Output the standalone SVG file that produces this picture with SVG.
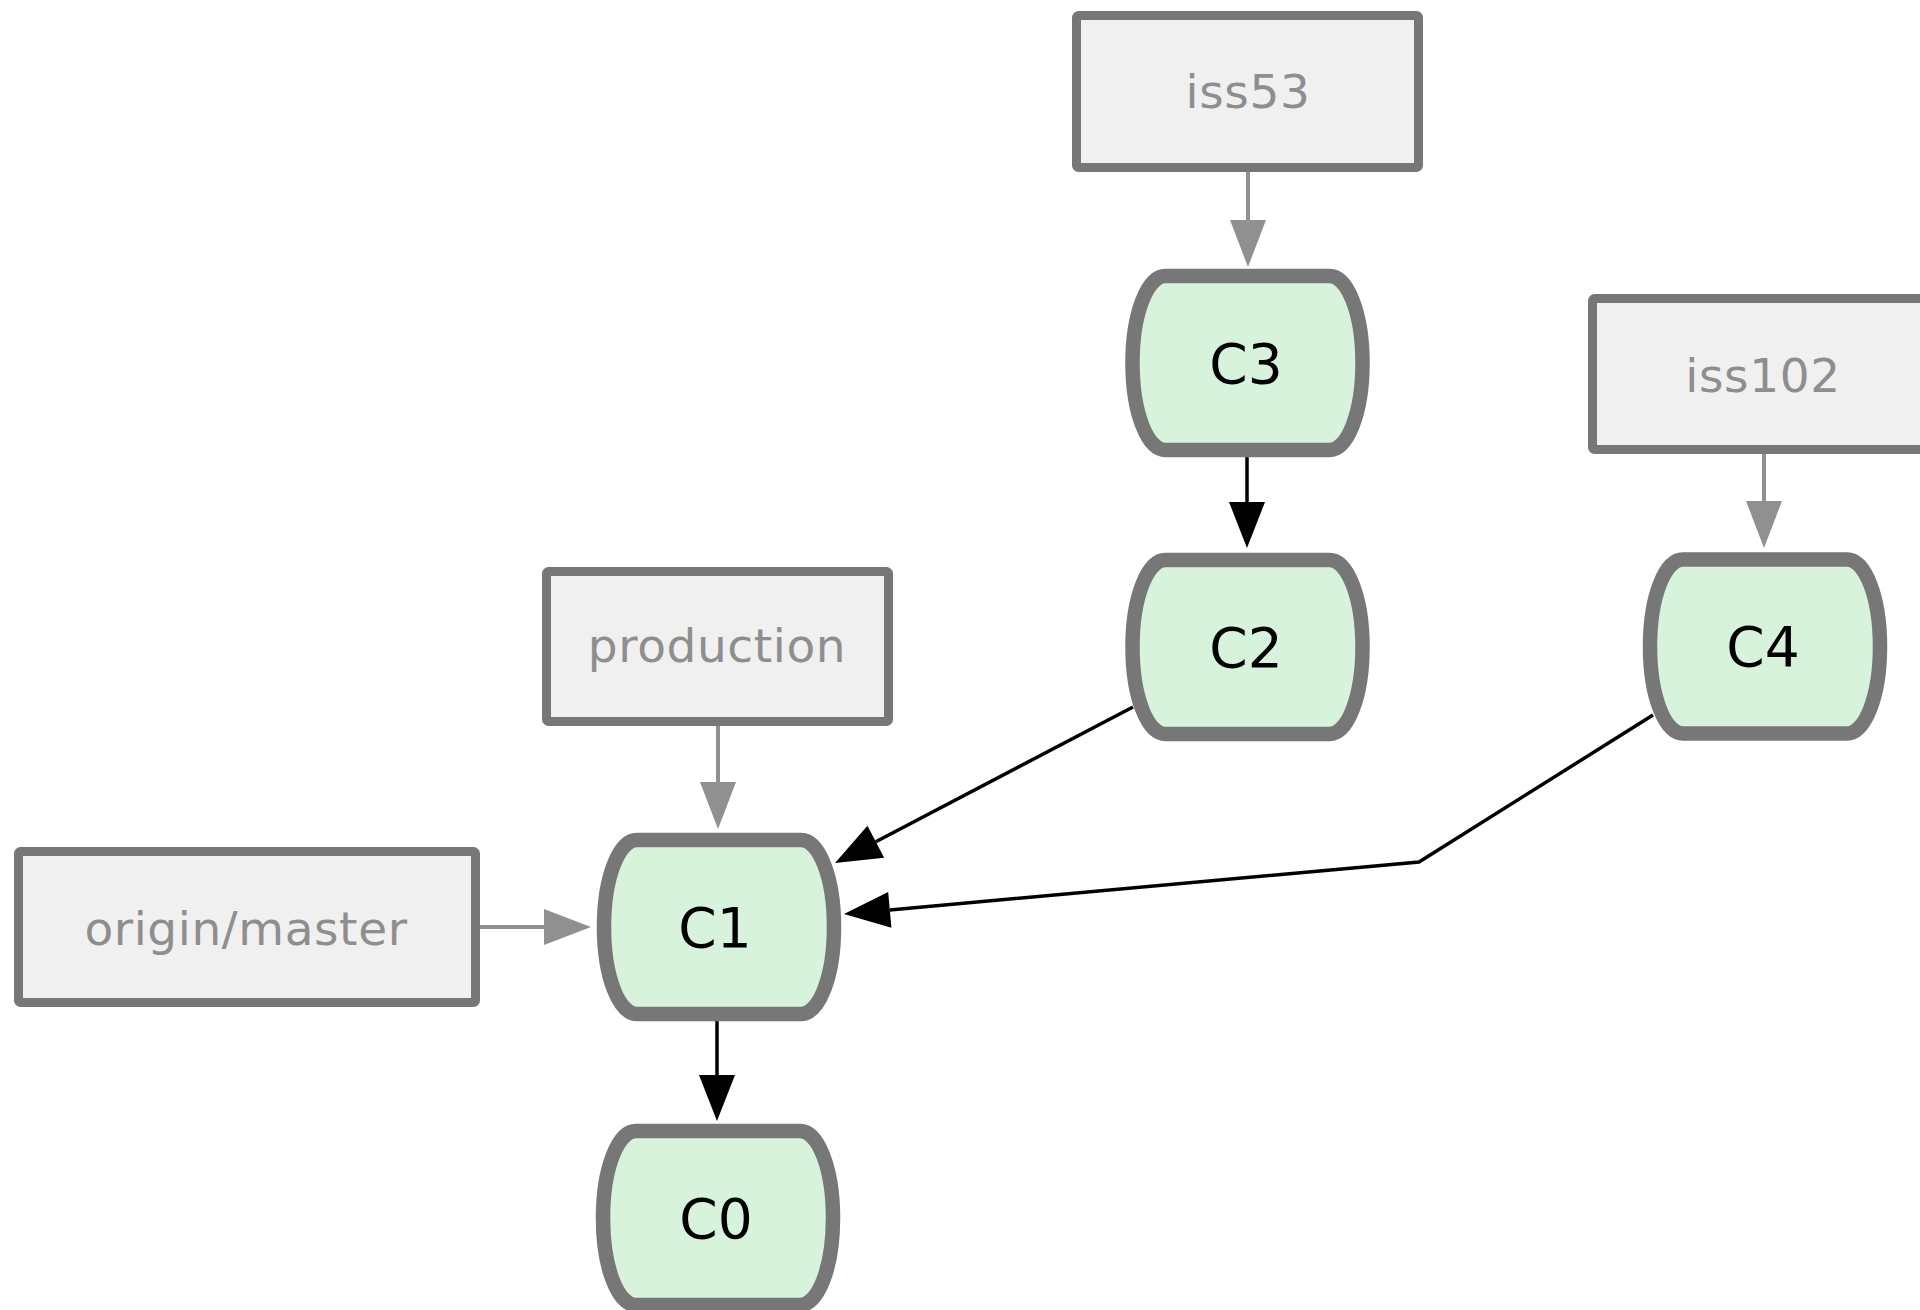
<svg xmlns="http://www.w3.org/2000/svg" xmlns:xlink="http://www.w3.org/1999/xlink" width="1920" height="1310" viewBox="0 0 1920 1310">
  <style>
    .box { fill: #f0f0f0; stroke: #777777; stroke-width: 9; }
    .commit { fill: #d8f3dc; stroke: #777777; stroke-width: 14.5; stroke-linejoin: round; }
    .blabel { font-family: "DejaVu Sans", "Liberation Sans", sans-serif; font-size: 47px; fill: #8e8e8e; text-anchor: middle; letter-spacing: 0.6px; }
    .clabel { font-family: "DejaVu Sans", "Liberation Sans", sans-serif; font-size: 55px; fill: #000000; text-anchor: middle; }
    .ref { fill: none; stroke: #909090; stroke-width: 4; }
    .parent { fill: none; stroke: #000000; stroke-width: 3.5; }
  </style>
  <defs>
    <path id="commitShape" d="M-82,-87 L82,-87 C100,-87 115,-50 115,0 C115,50 100,87 82,87 L-82,87 C-100,87 -115,50 -115,0 C-115,-50 -100,-87 -82,-87 Z"/>
    <marker id="grayHead" markerUnits="userSpaceOnUse" markerWidth="47" markerHeight="36" refX="0" refY="18" orient="auto" overflow="visible">
      <path d="M0,0 L47,18 L0,36 Z" fill="#909090"/>
    </marker>
    <marker id="blackHead" markerUnits="userSpaceOnUse" markerWidth="46" markerHeight="36" refX="0" refY="18" orient="auto" overflow="visible">
      <path d="M0,0 L46,18 L0,36 Z" fill="#000000"/>
    </marker>
  </defs>

  <g id="connectors">
    <path class="ref" d="M1248,172 L1248,220" marker-end="url(#grayHead)"/>
    <path class="ref" d="M1764,454 L1764,501" marker-end="url(#grayHead)"/>
    <path class="ref" d="M718,726 L718,782" marker-end="url(#grayHead)"/>
    <path class="ref" d="M480,927 L544,927" marker-end="url(#grayHead)"/>
    <path class="parent" d="M1247,457 L1247,502" marker-end="url(#blackHead)"/>
    <path class="parent" d="M717,1021 L717,1075" marker-end="url(#blackHead)"/>
    <path class="parent" d="M1133,707 L875.8,841.7" marker-end="url(#blackHead)"/>
    <path class="parent" d="M1653,715 L1419,862 L889.8,909.9" stroke-linejoin="miter" marker-end="url(#blackHead)"/>
  </g>

  <g id="iss53">
    <rect class="box" x="1076.5" y="15.5" width="342" height="152" rx="2"/>
    <text class="blabel" x="1248" y="108">iss53</text>
  </g>
  <g id="iss102">
    <rect class="box" x="1592.5" y="298.5" width="342" height="151" rx="2"/>
    <text class="blabel" x="1763" y="392">iss102</text>
  </g>
  <g id="production">
    <rect class="box" x="546.5" y="571.5" width="342" height="150" rx="2"/>
    <text class="blabel" x="717" y="662">production</text>
  </g>
  <g id="origin-master">
    <rect class="box" x="18.5" y="851.5" width="457" height="151" rx="2"/>
    <text class="blabel" x="246" y="945">origin/master</text>
  </g>

  <g id="C3">
    <use xlink:href="#commitShape" href="#commitShape" class="commit" transform="translate(1247.5,363)"/>
    <text class="clabel" x="1246" y="383">C3</text>
  </g>
  <g id="C2">
    <use xlink:href="#commitShape" href="#commitShape" class="commit" transform="translate(1247.5,647)"/>
    <text class="clabel" x="1246" y="667">C2</text>
  </g>
  <g id="C4">
    <use xlink:href="#commitShape" href="#commitShape" class="commit" transform="translate(1765,646.5)"/>
    <text class="clabel" x="1763" y="666">C4</text>
  </g>
  <g id="C1">
    <use xlink:href="#commitShape" href="#commitShape" class="commit" transform="translate(719,927)"/>
    <text class="clabel" x="715" y="947">C1</text>
  </g>
  <g id="C0">
    <use xlink:href="#commitShape" href="#commitShape" class="commit" transform="translate(718,1218)"/>
    <text class="clabel" x="716" y="1238">C0</text>
  </g>
</svg>
